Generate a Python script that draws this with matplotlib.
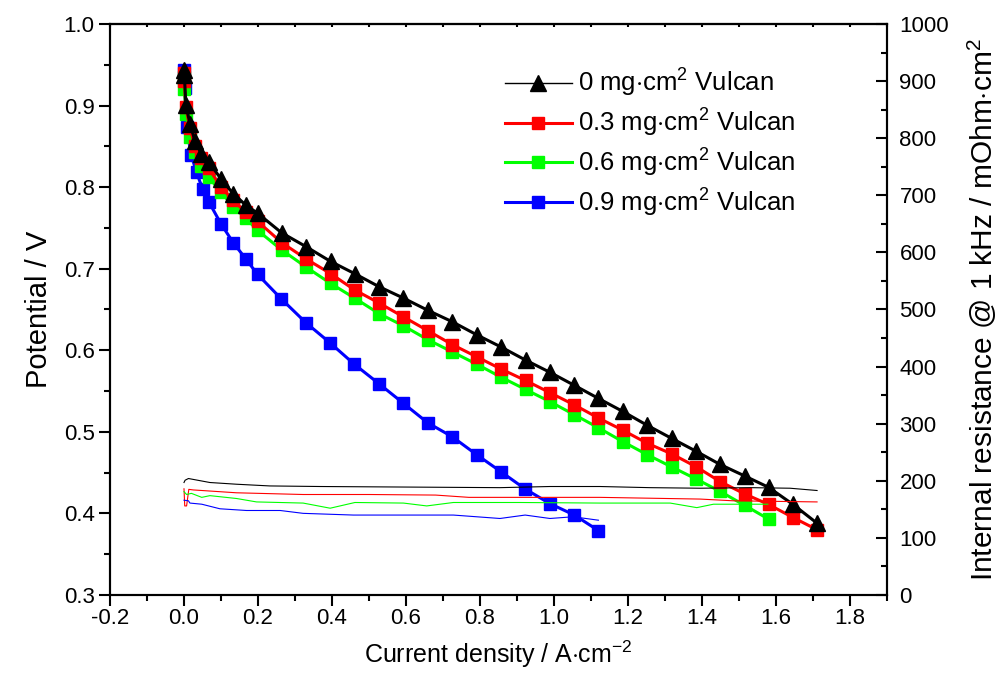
import numpy as np
import matplotlib
matplotlib.use("Agg")
import matplotlib.pyplot as plt
from matplotlib.lines import Line2D
from matplotlib.ticker import MultipleLocator, FormatStrFormatter

# ----------
#  CONFIG
# ----------
plt.rcParams["font.family"] = ["Liberation Sans", "DejaVu Sans"]
plt.rcParams["mathtext.fontset"] = "custom"
plt.rcParams["mathtext.rm"] = "Liberation Sans"
plt.rcParams["mathtext.it"] = "Liberation Sans:italic"
plt.rcParams["axes.unicode_minus"] = False

# ----------
#  DATA
# ----------
# polarisation curves (current density A/cm2, potential V)
j_0 = [0.0, 0.001, 0.005, 0.016, 0.030, 0.047, 0.067, 0.100, 0.133, 0.167,
       0.199, 0.264, 0.330, 0.396, 0.461, 0.527, 0.593, 0.659, 0.725, 0.791,
       0.857, 0.923, 0.989, 1.055, 1.120, 1.186, 1.252, 1.318, 1.385, 1.449,
       1.515, 1.580, 1.646, 1.711]
v_0 = [0.944, 0.937, 0.901, 0.878, 0.856, 0.841, 0.831, 0.810, 0.792, 0.778,
       0.768, 0.744, 0.727, 0.709, 0.694, 0.678, 0.664, 0.649, 0.635, 0.619,
       0.604, 0.588, 0.573, 0.557, 0.541, 0.525, 0.508, 0.492, 0.476, 0.460,
       0.446, 0.432, 0.411, 0.388]

j_03 = j_0
v_03 = [0.940, 0.930, 0.898, 0.872, 0.850, 0.836, 0.823, 0.800, 0.784, 0.769,
        0.758, 0.732, 0.712, 0.694, 0.674, 0.658, 0.641, 0.624, 0.607, 0.592,
        0.577, 0.563, 0.548, 0.533, 0.517, 0.502, 0.486, 0.473, 0.457, 0.439,
        0.424, 0.411, 0.395, 0.380]

j_06 = j_0[:32]
v_06 = [0.935, 0.920, 0.890, 0.862, 0.843, 0.826, 0.812, 0.794, 0.776, 0.762,
        0.747, 0.723, 0.702, 0.682, 0.664, 0.645, 0.630, 0.613, 0.598, 0.583,
        0.567, 0.552, 0.537, 0.521, 0.505, 0.488, 0.472, 0.457, 0.442, 0.427,
        0.410, 0.393]

j_09 = [0.0, 0.002, 0.007, 0.019, 0.034, 0.050, 0.067, 0.100, 0.133, 0.167,
        0.199, 0.263, 0.329, 0.395, 0.460, 0.527, 0.593, 0.659, 0.725, 0.791,
        0.857, 0.922, 0.989, 1.055, 1.120]
v_09 = [0.944, 0.922, 0.874, 0.840, 0.818, 0.798, 0.782, 0.755, 0.732, 0.712,
        0.693, 0.663, 0.634, 0.609, 0.583, 0.559, 0.535, 0.511, 0.494, 0.472,
        0.451, 0.430, 0.412, 0.398, 0.379]

# internal resistance @ 1 kHz (mOhm cm2)
rj_0 = [0.0, 0.003, 0.012, 0.070, 0.142, 0.232, 0.368, 0.854, 0.989, 1.124,
        1.259, 1.395, 1.530, 1.638, 1.711]
r_0 = [197, 201, 204, 197, 194, 191, 190, 188, 190, 190, 188, 187, 188, 187, 183]

rj_03 = [0.0, 0.002, 0.007, 0.013, 0.025, 0.142, 0.322, 0.500, 0.680, 0.770,
         0.908, 1.124, 1.395, 1.484, 1.711]
r_03 = [186, 156, 156, 185, 184, 179, 176, 176, 175, 171, 171, 171, 168, 165, 163]

rj_06 = [0.0, 0.007, 0.020, 0.048, 0.070, 0.142, 0.196, 0.322, 0.395, 0.462,
         0.593, 0.656, 0.728, 0.908, 1.124, 1.314, 1.386, 1.431, 1.578]
r_06 = [181, 176, 178, 171, 174, 169, 163, 161, 152, 162, 161, 156, 162, 162,
        161, 161, 153, 159, 159]

rj_09 = [0.0, 0.012, 0.016, 0.048, 0.097, 0.169, 0.260, 0.322, 0.458, 0.728,
         0.854, 0.922, 0.989, 1.052, 1.120]
r_09 = [166, 165, 161, 159, 151, 148, 148, 143, 140, 140, 134, 140, 134, 137, 131]

labels = ["0 mg$\\cdot$cm$^{2}$ Vulcan", "0.3 mg$\\cdot$cm$^{2}$ Vulcan",
          "0.6 mg$\\cdot$cm$^{2}$ Vulcan", "0.9 mg$\\cdot$cm$^{2}$ Vulcan"]
colors = ["black", "#ff0000", "#00ff00", "#0000ff"]


fig = plt.figure(figsize=(10.06, 6.88), dpi=100)
ax = fig.add_axes([110 / 1006, 93 / 688, 777 / 1006, 571 / 688])
ax2 = ax.twinx()

# polarisation curves, blue at the bottom, black on top
ax.plot(j_09, v_09, color=colors[3], lw=2.2, marker="s", ms=8.5, zorder=3)
ax.plot(j_06, v_06, color=colors[2], lw=2.2, marker="s", ms=8.5, zorder=4)
ax.plot(j_03, v_03, color=colors[1], lw=2.2, marker="s", ms=8.5, zorder=5)
ax.plot(j_0, v_0, color=colors[0], lw=2.2, marker="^", ms=11.5, zorder=6)

# resistance (thin lines, right axis)
ax2.plot(rj_0, r_0, color=colors[0], lw=0.8)
ax2.plot(rj_03, r_03, color=colors[1], lw=0.8)
ax2.plot(rj_06, r_06, color=colors[2], lw=0.8)
ax2.plot(rj_09, r_09, color=colors[3], lw=0.8)

ax.set_xlim(-0.2, 1.9)
ax.set_ylim(0.3, 1.0)
ax2.set_ylim(0, 1000)

ax.xaxis.set_major_locator(MultipleLocator(0.2))
ax.xaxis.set_minor_locator(MultipleLocator(0.1))
ax.xaxis.set_major_formatter(FormatStrFormatter("%.1f"))
ax.yaxis.set_major_locator(MultipleLocator(0.1))
ax.yaxis.set_minor_locator(MultipleLocator(0.05))
ax.yaxis.set_major_formatter(FormatStrFormatter("%.1f"))
ax2.yaxis.set_major_locator(MultipleLocator(100))
ax2.yaxis.set_minor_locator(MultipleLocator(50))

for a in (ax, ax2):
    for s in a.spines.values():
        s.set_linewidth(1.5)

ax.tick_params(axis="both", which="major", direction="out", length=8,
               width=1.5, labelsize=16, pad=3)
ax.tick_params(axis="x", which="major", pad=1)
ax.tick_params(axis="both", which="minor", direction="out", length=4.5,
               width=1.5)
ax2.tick_params(axis="y", which="major", direction="in", length=8,
                width=1.5, labelsize=16, pad=9)
ax2.tick_params(axis="y", which="minor", direction="in", length=4.5,
                width=1.5)

# small inward ticks on the top spine
top = ax.secondary_xaxis("top")
top.xaxis.set_major_locator(MultipleLocator(0.1))
top.tick_params(axis="x", direction="in", length=2.5, width=1.5,
                labeltop=False)
top.spines["top"].set_linewidth(1.5)

ax.set_xlabel("Current density / A$\\cdot$cm$^{-2}$", fontsize=18, labelpad=7)
ax.set_ylabel("Potential / V", fontsize=21, labelpad=8)
ax2.set_ylabel("Internal resistance @ 1 kHz / mOhm$\\cdot$cm$^{2}$",
               fontsize=21.5, labelpad=12)

handles = [
    Line2D([], [], color=colors[0], lw=1, marker="^", ms=11.5),
    Line2D([], [], color=colors[1], lw=2.2, marker="s", ms=8.5),
    Line2D([], [], color=colors[2], lw=2.2, marker="s", ms=8.5),
    Line2D([], [], color=colors[3], lw=2.2, marker="s", ms=8.5),
]
ax.legend(handles, labels, loc="upper left", bbox_to_anchor=(0.508, 0.925),
          frameon=False, fontsize=18.5, handlelength=2.6, handletextpad=0.25,
          labelspacing=0.3, borderaxespad=0, borderpad=0)

fig.savefig("out.png", dpi=100)
